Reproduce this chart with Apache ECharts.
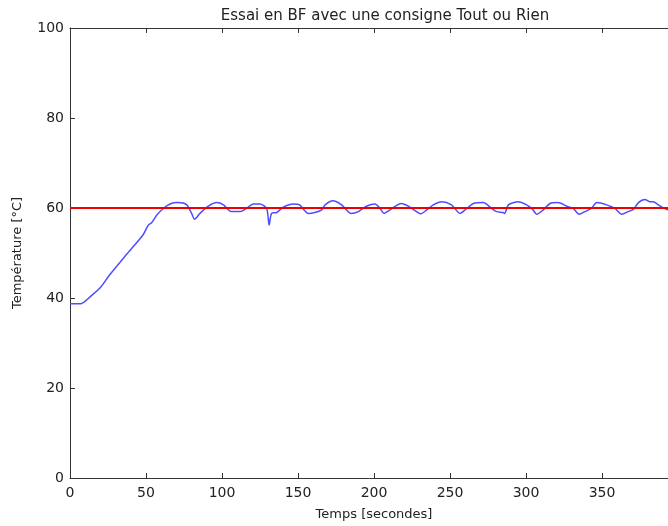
<!DOCTYPE html>
<html>
<head>
<meta charset="utf-8">
<script src="https://cdn.jsdelivr.net/npm/echarts@6/dist/echarts.min.js"></script>
<style>
  html, body { margin: 0; padding: 0; background: #fff; }
  #essai { width: 668px; height: 526px; }
</style>
</head>
<body>
<div id="essai"></div>
<script>
// temps (s) and température (°C)
const temps = [0, 2, 7.7, 13, 19.7, 26, 37, 48, 51.5, 53.7, 57, 61.4, 65.8, 71, 76.8, 80, 82, 85.5, 91, 96.5,
  101, 106, 112, 116, 120.6, 125, 129.4, 131, 132.6, 136, 140.3, 147, 151, 156.8, 161, 165.6, 167.8, 173,
  178.7, 185, 189.7, 195, 200.7, 204, 206.6, 210.5, 218, 222.6, 228, 230.7, 234.7, 239, 244.5, 251, 256.6,
  260, 265.4, 272, 277.4, 280.7, 285, 286, 288.4, 295, 300.4, 304.4, 307, 311.4, 315.8, 321, 326.8, 331,
  335, 338.8, 343, 346.5, 353, 358.5, 363, 367.3, 370.6, 374, 378.3, 381.6, 383.8, 387, 392.5, 398];
const temperature = [38.7, 38.7, 38.8, 40.2, 42.2, 45.1, 49.6, 54, 56.2, 56.7, 58.4, 59.9, 60.9, 61.2, 60.7, 58.8,
  57.5, 58.8, 60.4, 61.2, 60.7, 59.2, 59.2, 59.9, 60.9, 60.9, 59.9, 56.2, 58.8, 59, 60.2, 60.9, 60.7, 58.8,
  59, 59.6, 60.7, 61.6, 60.7, 58.8, 59.2, 60.4, 60.9, 59.9, 58.8, 59.6, 61, 60.4, 59.2, 58.7, 59.6, 60.7,
  61.4, 60.7, 58.8, 59.6, 61, 61.2, 59.9, 59.2, 59, 58.8, 60.7, 61.4, 60.7, 59.7, 58.6, 59.6, 61, 61.2,
  60.4, 59.9, 58.6, 59.2, 59.9, 61.2, 60.7, 59.9, 58.6, 59.2, 59.7, 61.2, 61.9, 61.4, 61.4, 60.7, 59.7, 59.4];
const consigne = 60;
const xTicks = [0, 50, 100, 150, 200, 250, 300, 350];
const yTicks = [0, 20, 40, 60, 80, 100];

const font = "DejaVu Sans";
const chart = echarts.init(document.getElementById("essai"));

const axisBase = {
  type: "value",
  axisLine: { show: true, lineStyle: { color: "#333", width: 1 } },
  axisTick: { show: true, inside: true, length: 5, lineStyle: { color: "#333" } },
  splitLine: { show: false },
};

let option = {
  animation: false,
  title: {
    text: "Essai en BF avec une consigne Tout ou Rien",
    left: 380,
    textAlign: "center",
    top: 4,
    textStyle: { fontFamily: font, fontSize: 15, fontWeight: "normal", color: "#222" },
  },
  // the plot runs past the right edge of the picture, as in the original
  grid: { left: 70, right: -10, top: 28, bottom: 48, outerBoundsMode: "none", containLabel: false },
  xAxis: [
    Object.assign({}, axisBase, {
      min: 0, max: 400, interval: 50,
      position: "bottom",
      name: "Temps [secondes]",
      nameLocation: "middle",
      nameGap: 30,
      nameTextStyle: { fontFamily: font, fontSize: 13, color: "#222" },
      axisLabel: {
        fontFamily: font, fontSize: 14, color: "#222", margin: 8,
        formatter: (v) => (xTicks.includes(v) ? String(v) : ""),
      },
    }),
    Object.assign({}, axisBase, {
      min: 0, max: 400, interval: 50,
      position: "top",
      axisLabel: { show: false },
    }),
  ],
  yAxis: Object.assign({}, axisBase, {
    min: 0, max: 100, interval: 20,
    name: "Température [°C]",
    nameLocation: "middle",
    nameGap: 46,
    nameTextStyle: { fontFamily: font, fontSize: 13, color: "#222" },
    axisLabel: {
      fontFamily: font, fontSize: 14, color: "#222", margin: 6,
      formatter: (v) => (yTicks.includes(v) ? String(v) : ""),
    },
  }),
  series: [
    {
      type: "line",
      data: temps.map((t, i) => [t, temperature[i]]),
      symbol: "none",
      smooth: 0.25,
      lineStyle: { color: "#4d4dff", width: 1.5 },
    },
    {
      type: "line",
      data: [[0, consigne], [400, consigne]],
      symbol: "none",
      lineStyle: { color: "#ee0000", width: 2 },
    },
  ],
};
chart.setOption(option);
</script>
</body>
</html>
